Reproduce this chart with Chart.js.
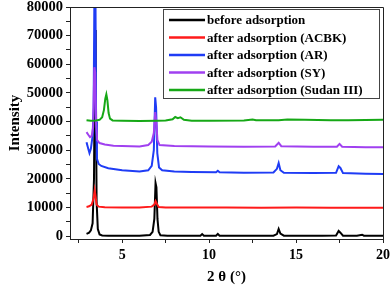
<!DOCTYPE html>
<html>
<head>
<meta charset="utf-8">
<script src="https://cdn.jsdelivr.net/npm/chart.js@4.4.0/dist/chart.umd.min.js"></script>
<style>
  html, body { margin: 0; padding: 0; background: #fff; }
  #wrap { width: 392px; height: 287px; }
</style>
</head>
<body>
<div id="wrap"><canvas id="xrd"></canvas></div>
<script>
// XRD patterns, 2 theta (deg) vs intensity
var etiquetas = ['before adsorption', 'after adsorption (ACBK)', 'after adsorption (AR)',
                 'after adsorption (SY)', 'after adsorption (Sudan III)'];
var colores = ['#000000', '#ff1a1a', '#1f3cf5', '#a040f0', '#16a816'];

// tick positions (minor ones carry no label)
var ticks_x = [2.5, 5, 7.5, 10, 12.5, 15, 17.5, 20];
var ticks_x_lbl = ['', '5', '', '10', '', '15', '', '20'];
var ticks_y = [0, 5000, 10000, 15000, 20000, 25000, 30000, 35000, 40000, 45000, 50000, 55000, 60000, 65000, 70000, 75000, 80000];
var ticks_y_lbl = ['0', '', '10000', '', '20000', '', '30000', '', '40000', '', '50000', '', '60000', '', '70000', '', '80000'];

var x_before = [2.95, 3.1, 3.2, 3.3, 3.38, 3.44, 3.48, 3.53, 3.6, 3.7, 3.85, 4.2, 5, 6, 6.6, 6.75, 6.85, 6.92, 6.97, 7.03, 7.1, 7.2, 7.6, 8.5, 9.5, 9.6, 9.7, 10.4, 10.5, 10.6, 11.5, 12.5, 13.7, 13.9, 14.0, 14.1, 14.3, 15.5, 16.5, 17.3, 17.45, 17.55, 17.7, 18.5, 18.8, 18.9, 19.5, 20];
var y_before = [800, 1200, 2000, 4500, 20000, 72000, 60000, 12000, 2500, 600, 250, 150, 150, 150, 400, 1500, 6000, 18500, 17000, 6000, 1500, 300, 150, 150, 150, 700, 150, 150, 800, 150, 150, 150, 150, 700, 2500, 900, 150, 150, 150, 200, 1800, 1200, 150, 150, 500, 150, 150, 150];

var x_acbk = [2.95, 3.1, 3.25, 3.35, 3.42, 3.47, 3.53, 3.65, 4, 5, 6, 6.7, 6.85, 6.92, 7.0, 7.1, 7.5, 9, 11, 13, 15, 17, 19, 20];
var y_acbk = [10200, 10400, 11000, 13000, 16000, 14000, 11000, 10300, 10100, 10000, 10000, 10300, 11000, 12200, 11200, 10200, 10000, 10000, 10000, 9900, 10000, 9900, 9900, 9900];

var x_ar = [2.95, 3.05, 3.12, 3.2, 3.3, 3.36, 3.41, 3.46, 3.5, 3.55, 3.65, 3.8, 4.2, 5, 6, 6.5, 6.7, 6.82, 6.9, 6.95, 7.02, 7.12, 7.3, 8, 9, 10.4, 10.5, 10.6, 12, 13.7, 13.9, 14.0, 14.1, 14.3, 16, 17.3, 17.45, 17.55, 17.7, 19, 20];
var y_ar = [32800, 30500, 29000, 30500, 35000, 45000, 90000, 90000, 40000, 27000, 25200, 24500, 23700, 23000, 22600, 23000, 24500, 30000, 48500, 45000, 29000, 24000, 23000, 22600, 22400, 22300, 22800, 22300, 22100, 22200, 23500, 25500, 23000, 22100, 22000, 22100, 24400, 23800, 22000, 21800, 21700];

var x_sy = [2.95, 3.05, 3.15, 3.25, 3.33, 3.4, 3.45, 3.5, 3.56, 3.7, 4, 4.5, 6, 6.5, 6.7, 6.82, 6.9, 6.96, 7.03, 7.15, 8, 10, 12, 13.8, 14.0, 14.15, 16, 17.35, 17.5, 17.65, 19, 20];
var y_sy = [36300, 35400, 34600, 35000, 38000, 59000, 57000, 40000, 33500, 32500, 32000, 31600, 31300, 31800, 33000, 36000, 43300, 40000, 33500, 31800, 31500, 31300, 31200, 31300, 32600, 31400, 31200, 31200, 32200, 31200, 31000, 31000];

var x_sudan = [2.95, 3.2, 3.5, 3.7, 3.85, 3.95, 4.03, 4.09, 4.15, 4.22, 4.3, 4.45, 5, 6, 7, 7.5, 7.9, 8.05, 8.2, 8.35, 8.55, 9, 10, 12, 12.5, 12.7, 14, 14.5, 15.5, 17, 18, 20];
var y_sudan = [40500, 40300, 40400, 40600, 41500, 44000, 48000, 49500, 47500, 43000, 41000, 40400, 40300, 40200, 40300, 40400, 40800, 41600, 41200, 41500, 40600, 40300, 40300, 40400, 40700, 40500, 40500, 40700, 40600, 40500, 40500, 40600];

var series_x = [x_before, x_acbk, x_ar, x_sy, x_sudan];
var series_y = [y_before, y_acbk, y_ar, y_sy, y_sudan];

var fuente = '"Liberation Serif", "Times New Roman", serif';

function puntos(xs, ys){
    var p = [];
    for (var i = 0; i < xs.length; i++){
        p.push({x: xs[i], y: ys[i]});
    }
    return p;
}

function fijar_ticks(valores){
    return function(s){
        s.ticks = valores.map(function(v){ return {value: v}; });
    };
}

function etiqueta_de(valores, nombres){
    return function(v){
        var k = valores.indexOf(v);
        return k >= 0 ? nombres[k] : '';
    };
}

var datasets = [];
for (var i = 0; i < etiquetas.length; i++){
    datasets.push({
        label: etiquetas[i],
        data: puntos(series_x[i], series_y[i]),
        borderColor: colores[i],
        backgroundColor: colores[i],
        borderWidth: 2,
        pointRadius: 0,
        tension: 0,
        order: etiquetas.length - i   // later curves on top, like the original
    });
}

// frame around plot + legend box
var marco = {
    id: 'marco',
    afterDraw: function(chart){
        var ctx = chart.ctx, a = chart.chartArea;
        ctx.save();
        ctx.strokeStyle = '#222';
        ctx.lineWidth = 1;
        ctx.beginPath();
        ctx.moveTo(a.left, a.top + 0.5);
        ctx.lineTo(a.right + 0.5, a.top + 0.5);
        ctx.lineTo(a.right + 0.5, a.bottom);
        ctx.stroke();

        // legend
        var bx = 163, by = 9, bw = 216, bh = 89;
        ctx.fillStyle = '#fff';
        ctx.fillRect(bx, by, bw, bh);
        ctx.strokeStyle = '#444';
        ctx.strokeRect(bx + 0.5, by + 0.5, bw, bh);
        ctx.font = 'bold 13px ' + fuente;
        ctx.textBaseline = 'middle';
        for (var i = 0; i < etiquetas.length; i++){
            var yy = 20 + i * 17.5;
            ctx.strokeStyle = colores[i];
            ctx.lineWidth = 2.5;
            ctx.beginPath();
            ctx.moveTo(169, yy);
            ctx.lineTo(205, yy);
            ctx.stroke();
            ctx.fillStyle = '#000';
            ctx.fillText(etiquetas[i], 207, yy + 1);
        }
        ctx.restore();
    }
};

var ctx = document.getElementById('xrd');
var chart = new Chart(ctx, {
    type: 'line',
    data: { datasets: datasets },
    options: {
        responsive: true,
        maintainAspectRatio: false,
        animation: false,
        layout: { padding: { top: 7, right: 9, left: 0, bottom: 0 } },
        plugins: { legend: { display: false }, tooltip: { enabled: false } },
        scales: {
            x: {
                type: 'linear',
                min: 2, max: 20,
                afterBuildTicks: fijar_ticks(ticks_x),
                afterFit: function(s){ s.height = 48; s.paddingRight = 0; s.paddingLeft = 0; },
                ticks: {
                    autoSkip: false, maxRotation: 0, padding: 4,
                    color: '#000',
                    font: { family: fuente, size: 14, weight: 'bold' },
                    callback: etiqueta_de(ticks_x, ticks_x_lbl)
                },
                grid: { drawOnChartArea: false, tickLength: 4, color: '#222' },
                border: { display: true, color: '#222', width: 1 },
                title: {
                    display: true, text: '2 θ (°)', color: '#000',
                    font: { family: fuente, size: 15, weight: 'bold' },
                    padding: { top: 0, bottom: 1 }
                }
            },
            y: {
                min: -1000, max: 80000,
                afterBuildTicks: fijar_ticks(ticks_y),
                afterFit: function(s){ s.width = 70; s.paddingTop = 0; s.paddingBottom = 0; },
                ticks: {
                    autoSkip: false, padding: 3,
                    color: '#000',
                    font: { family: fuente, size: 14.5, weight: 'bold' },
                    callback: etiqueta_de(ticks_y, ticks_y_lbl)
                },
                grid: { drawOnChartArea: false, tickLength: 4, color: '#222' },
                border: { display: true, color: '#222', width: 1 },
                title: {
                    display: true, text: 'Intensity', color: '#000',
                    font: { family: fuente, size: 15, weight: 'bold' },
                    padding: { top: 6, bottom: 4 }
                }
            }
        }
    },
    plugins: [marco]
});
</script>
</body>
</html>
